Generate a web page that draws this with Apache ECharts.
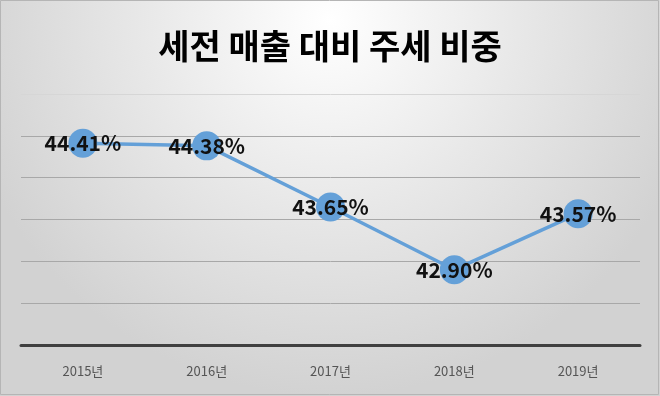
<!DOCTYPE html>
<html><head><meta charset="utf-8">
<script src="https://cdn.jsdelivr.net/npm/echarts@6/dist/echarts.min.js"></script>
<style>html,body{margin:0;padding:0;background:#fff}#c{width:660px;height:396px}</style>
</head><body><div id="c"></div>
<script>
const titleText = '세전 매출 대비 주세 비중';
const categories = ['2015년','2016년','2017년','2018년','2019년'];
const values = [44.41, 44.38, 43.65, 42.90, 43.57];
const yMin = 42, yMax = 45, yInterval = 0.5;

const chart = echarts.init(document.getElementById('c'), null, {renderer:'canvas'});
chart.setOption({
  backgroundColor: {
    type:'radial', x:0.5, y:0.05, r:0.95,
    colorStops:[{offset:0,color:'#ffffff'},{offset:0.5,color:'#e8e8e8'},{offset:1,color:'#d2d2d2'}]
  },
  title: {
    text: titleText, left:'center', top:24,
    textStyle:{fontFamily:'Noto Sans CJK KR', fontWeight:'bold', fontSize:34, color:'#000'}
  },
  graphic:[{type:'rect', shape:{x:0.5,y:0.5,width:658,height:394}, style:{fill:'none', stroke:'#b5b5b5', lineWidth:1}, silent:true}],
  grid:{left:21, right:20, top:94, bottom:51, containLabel:false},
  xAxis:{
    type:'category', data:categories, boundaryGap:true,
    axisLine:{lineStyle:{color:'#404040', width:3}},
    axisTick:{show:false},
    axisLabel:{color:'#555', fontSize:13, margin:20, fontFamily:'Noto Sans CJK KR'}
  },
  yAxis:{
    type:'value', min:yMin, max:yMax, interval:yInterval,
    axisLabel:{show:false}, axisLine:{show:false}, axisTick:{show:false},
    splitLine:{lineStyle:{color:['#a8a8a8','#a8a8a8','#a8a8a8','#a8a8a8','#a8a8a8','#a8a8a8','#d6d6d6'], width:1}}
  },
  series:[{
    type:'line', data:values, symbol:'circle', symbolSize:29,
    lineStyle:{color:'#64a0d8', width:3.5},
    itemStyle:{color:'#64a0d8'},
    label:{show:true, position:'inside', formatter:p=>p.value.toFixed(2)+'%',
      fontFamily:'Noto Sans CJK KR', fontWeight:'bold', fontSize:21, color:'#111'},
    animation:false
  }]
});
</script></body></html>
